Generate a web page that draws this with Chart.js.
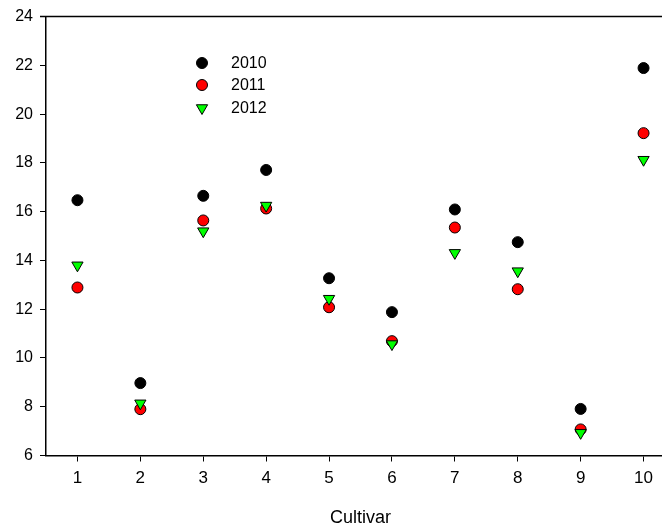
<!DOCTYPE html>
<html lang="en">
<head>
  <meta charset="UTF-8">
  <title>Cultivar</title>
  <script src="https://cdn.jsdelivr.net/npm/chart.js@4/dist/chart.umd.min.js"></script>
  <style>
    html, body { margin: 0; padding: 0; background: #fff; overflow: hidden; }
    #wrap { width: 690px; height: 531px; }
  </style>
</head>
<body>
  <div id="wrap"><canvas id="chart" width="690" height="531"></canvas></div>
  <script>
    const cultivars = [1, 2, 3, 4, 5, 6, 7, 8, 9, 10];
    const years = ['2010', '2011', '2012'];
    const values2010 = [16.47, 8.97, 16.65, 17.71, 13.27, 11.88, 16.09, 14.75, 7.91, 21.89];
    const values2011 = [12.89, 7.90, 15.64, 16.13, 12.08, 10.69, 15.35, 12.82, 7.07, 19.22];
    const values2012 = [13.80, 8.14, 15.20, 16.25, 12.43, 10.57, 14.31, 13.56, 6.93, 18.13];
    const yTicks = [6, 8, 10, 12, 14, 16, 18, 20, 22, 24];

    const toPoints = vals => vals.map((v, i) => ({ x: cultivars[i], y: v }));

    const styles = [
      { color: '#000000', shape: 'circle', radius: 5.5, rotation: 0 },
      { color: '#ff0000', shape: 'circle', radius: 5.5, rotation: 0 },
      { color: '#00ff00', shape: 'triangle', radius: 6.5, rotation: 180 }
    ];

    // top frame line + legend inside the plot
    const frame = {
      id: 'frame',
      afterDraw(chart) {
        const { ctx, chartArea } = chart;
        ctx.save();
        ctx.strokeStyle = '#000';
        ctx.lineWidth = 1.5;
        ctx.beginPath();
        ctx.moveTo(chartArea.left - 6, chartArea.top);
        ctx.lineTo(chartArea.right, chartArea.top);
        ctx.stroke();

        const rows = [63, 85, 108];
        ctx.font = '16px "Liberation Sans", Arial, sans-serif';
        ctx.textBaseline = 'middle';
        years.forEach((label, i) => {
          const s = styles[i];
          ctx.fillStyle = s.color;
          ctx.strokeStyle = '#000';
          ctx.lineWidth = 1;
          Chart.helpers.drawPoint(ctx, {
            pointStyle: s.shape, radius: s.radius, rotation: s.rotation, borderWidth: 1
          }, 202, rows[i]);
          ctx.fillStyle = '#000';
          ctx.fillText(label, 231, rows[i] + 1);
        });
        ctx.restore();
      }
    };

    const datasets = [values2010, values2011, values2012].map((vals, i) => ({
      label: years[i],
      data: toPoints(vals),
      showLine: false,
      pointStyle: styles[i].shape,
      pointRadius: styles[i].radius,
      pointHoverRadius: styles[i].radius,
      pointRotation: styles[i].rotation,
      backgroundColor: styles[i].color,
      borderColor: '#000',
      pointBorderWidth: 1,
      order: 2 - i
    }));

    new Chart(document.getElementById('chart'), {
      type: 'scatter',
      data: { datasets },
      options: {
        responsive: false,
        animation: false,
        events: [],
        layout: { padding: { left: 0, top: 15, right: 15, bottom: 0 } },
        plugins: { legend: { display: false }, tooltip: { enabled: false } },
        scales: {
          x: {
            type: 'linear',
            min: 0.5,
            max: 10.5,
            afterBuildTicks: axis => { axis.ticks = cultivars.map(v => ({ value: v })); },
            afterFit: axis => { axis.height = 75.5; },
            border: { color: '#000', width: 1.5 },
            grid: { drawOnChartArea: false, tickLength: 6, tickColor: '#000', tickWidth: 1 },
            ticks: {
              color: '#000',
              padding: 7,
              font: { family: '"Liberation Sans", Arial, sans-serif', size: 17 }
            },
            title: {
              display: true,
              text: 'Cultivar',
              color: '#000',
              padding: { top: 0, bottom: 2 },
              font: { family: '"Liberation Sans", Arial, sans-serif', size: 18 }
            }
          },
          y: {
            min: 6,
            max: 24,
            afterBuildTicks: axis => { axis.ticks = yTicks.map(v => ({ value: v })); },
            afterFit: axis => { axis.width = 46; },
            border: { color: '#000', width: 1.5 },
            grid: { drawOnChartArea: false, tickLength: 6, tickColor: '#000', tickWidth: 1 },
            ticks: {
              color: '#000',
              padding: 7,
              font: { family: '"Liberation Sans", Arial, sans-serif', size: 16 }
            }
          }
        }
      },
      plugins: [frame]
    });
  </script>
</body>
</html>
